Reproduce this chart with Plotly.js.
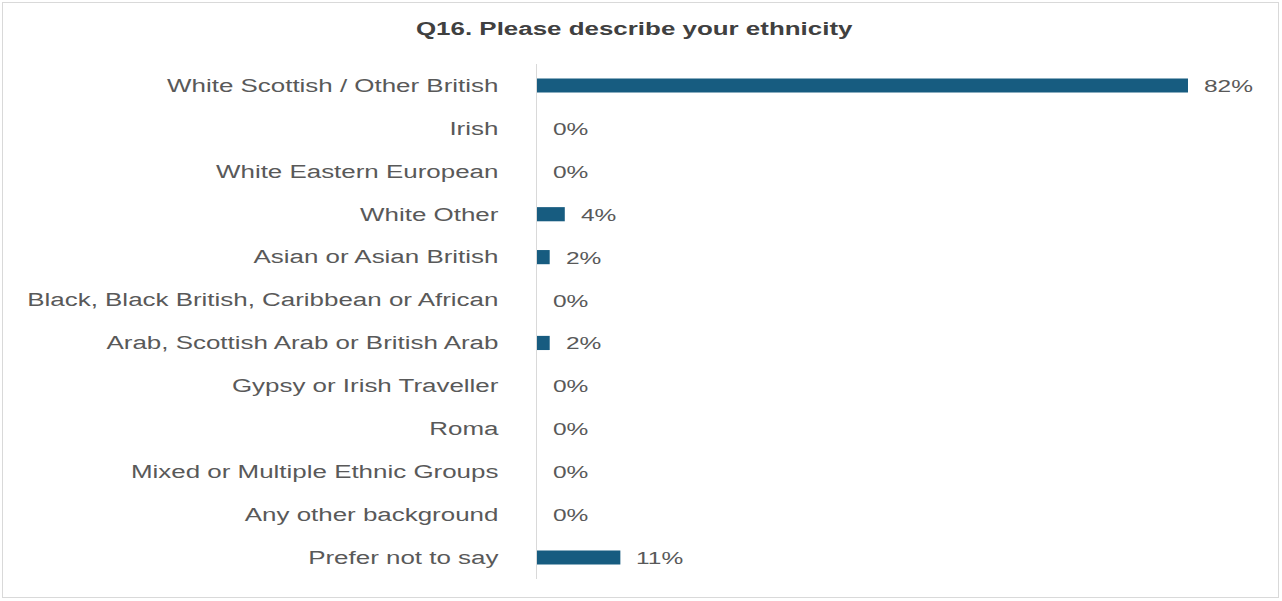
<!DOCTYPE html>
<html>
<head>
<meta charset="utf-8">
<script src="https://cdn.plot.ly/plotly-3.0.1.min.js"></script>
<style>
  html, body { margin: 0; padding: 0; background: #ffffff; }
  #wrap { position: relative; width: 1282px; height: 601px; }
  #chart { width: 1282px; height: 601px; }
  #frame { position: absolute; left: 2px; top: 2px; width: 1275px; height: 594px;
           border: 1px solid #d9d9d9; pointer-events: none; }
</style>
</head>
<body>
<div id="wrap">
  <div id="chart"></div>
  <div id="frame"></div>
</div>
<script>
const categories = [
  'White Scottish / Other British',
  'Irish',
  'White Eastern European',
  'White Other',
  'Asian or Asian British',
  'Black, Black British, Caribbean or African',
  'Arab, Scottish Arab or British Arab',
  'Gypsy or Irish Traveller',
  'Roma',
  'Mixed or Multiple Ethnic Groups',
  'Any other background',
  'Prefer not to say'
];
const values = [82, 0, 0, 3.5, 1.6, 0, 1.6, 0, 0, 0, 0, 10.5];
const valueLabels = ['82%', '0%', '0%', '4%', '2%', '0%', '2%', '0%', '0%', '0%', '0%', '11%'];
const chartTitle = 'Q16. Please describe your ethnicity';

const STRETCH = 1.44;
const FONT = 'Liberation Sans, Arial, sans-serif';

const trace = {
  type: 'bar',
  orientation: 'h',
  x: values,
  y: categories,
  width: 0.33,
  marker: { color: '#175c80', line: { width: 0 } },
  hoverinfo: 'skip'
};

const annotations = categories.map((c, i) => ({
  x: values[i],
  y: c,
  xref: 'x',
  yref: 'y',
  text: valueLabels[i],
  showarrow: false,
  xanchor: 'left',
  align: 'left',
  yanchor: 'middle',
  xshift: 14,
  yshift: -1,
  font: { family: FONT, size: 17, color: '#595959' }
}));

const layout = {
  width: 1282,
  height: 601,
  margin: { l: 537, r: 22, t: 64, b: 22 },
  paper_bgcolor: '#ffffff',
  plot_bgcolor: '#ffffff',
  showlegend: false,
  title: {
    text: '<b>' + chartTitle + '</b>',
    x: 0.4947,
    xref: 'container',
    xanchor: 'center',
    y: 0.952,
    yref: 'container',
    yanchor: 'middle',
    font: { family: FONT, size: 18, color: '#404040' }
  },
  xaxis: {
    range: [0, 91.07],
    showgrid: false,
    zeroline: false,
    showticklabels: false,
    showline: false,
    ticks: ''
  },
  yaxis: {
    type: 'category',
    range: [11.5, -0.5],
    showgrid: false,
    zeroline: false,
    showline: true,
    linecolor: '#d9d9d9',
    linewidth: 1,
    ticks: '',
    ticklabelstandoff: 34,
    tickfont: { family: FONT, size: 18, color: '#595959' }
  },
  annotations: annotations
};

Plotly.newPlot('chart', [trace], layout, { displayModeBar: false, staticPlot: true }).then(function (gd) {
  gd.querySelectorAll('.ytick text, .gtitle, .annotation-text').forEach(function (t) {
    const w = t.getComputedTextLength();
    if (w > 0) {
      t.setAttribute('textLength', (w * STRETCH).toFixed(1));
      t.setAttribute('lengthAdjust', 'spacingAndGlyphs');
    }
  });
});
</script>
</body>
</html>
